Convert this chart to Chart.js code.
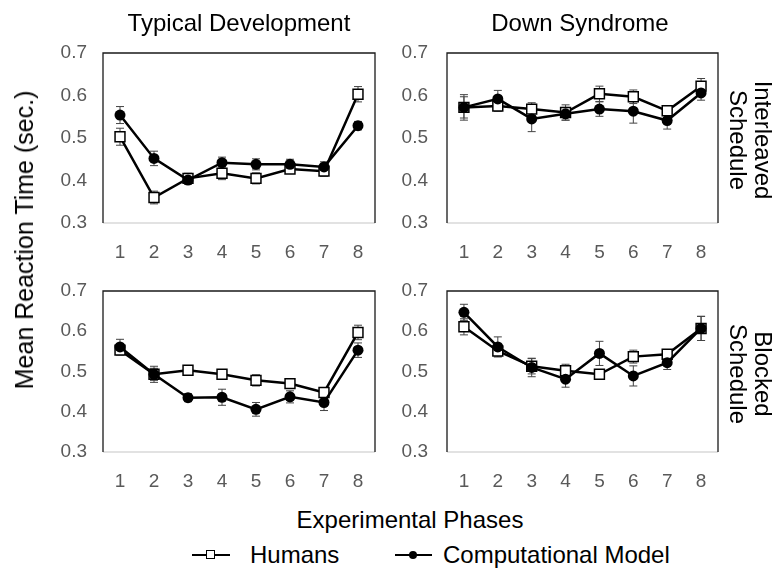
<!DOCTYPE html>
<html>
<head>
<meta charset="utf-8">
<script src="https://cdn.jsdelivr.net/npm/chart.js@4/dist/chart.umd.min.js"></script>
<style>
  html, body { margin: 0; padding: 0; background: #fff; }
  body { width: 779px; height: 568px; position: relative; overflow: hidden; font-family: "Liberation Sans", Arial, sans-serif; }
  canvas.panel { position: absolute; }
  .txt { position: absolute; white-space: nowrap; color: #000; font-size: 24px; line-height: 26px; transform: translate(-50%, -50%); }
  .rot90 { transform: translate(-50%, -50%) rotate(90deg); }
  .rotm90 { transform: translate(-50%, -50%) rotate(-90deg); }
  .leg-line { position: absolute; height: 2px; background: #000; }
  .leg-sq { position: absolute; width: 7px; height: 7px; border: 1.3px solid #000; background: #fff; }
  .leg-dot { position: absolute; width: 8px; height: 8px; border-radius: 50%; background: #000; }
</style>
</head>
<body>
<canvas class="panel" id="c1" width="352" height="235" style="left:33px;top:33px;width:352px;height:235px"></canvas>
<canvas class="panel" id="c2" width="351" height="235" style="left:377px;top:33px;width:351px;height:235px"></canvas>
<canvas class="panel" id="c3" width="352" height="226" style="left:33px;top:271px;width:352px;height:226px"></canvas>
<canvas class="panel" id="c4" width="351" height="226" style="left:377px;top:271px;width:351px;height:226px"></canvas>

<div class="txt" style="left:239px;top:23px">Typical Development</div>
<div class="txt" style="left:580px;top:23px">Down Syndrome</div>
<div class="txt rotm90" style="left:24px;top:240px;font-size:25px">Mean Reaction Time (sec.)</div>
<div class="txt rot90" style="left:763px;top:140px">Interleaved</div>
<div class="txt rot90" style="left:738px;top:140px">Schedule</div>
<div class="txt rot90" style="left:763px;top:374px">Blocked</div>
<div class="txt rot90" style="left:738px;top:374px">Schedule</div>
<div class="txt" style="left:410px;top:520px">Experimental Phases</div>

<div class="leg-line" style="left:192px;top:554px;width:38px"></div>
<div class="leg-sq" style="left:206px;top:550px"></div>
<div class="txt" style="left:250px;top:555px;transform:translate(0,-50%)">Humans</div>
<div class="leg-line" style="left:395px;top:554px;width:37px"></div>
<div class="leg-dot" style="left:409px;top:551px"></div>
<div class="txt" style="left:443px;top:555px;transform:translate(0,-50%)">Computational Model</div>

<script>
// ---- data ----
const phases = ["1", "2", "3", "4", "5", "6", "7", "8"];
const yTicks = [0.3, 0.4, 0.5, 0.6, 0.7];

// Typical Development, Interleaved schedule
const tdInterHumans    = [0.503, 0.360, 0.405, 0.417, 0.405, 0.427, 0.422, 0.603];
const tdInterHumansErr = [0.020, 0.015, 0.012, 0.015, 0.013, 0.010, 0.012, 0.018];
const tdInterModel     = [0.554, 0.452, 0.401, 0.442, 0.438, 0.438, 0.432, 0.529];
const tdInterModelErr  = [0.020, 0.017, 0.010, 0.013, 0.013, 0.012, 0.012, 0.010];

// Down Syndrome, Interleaved schedule
const dsInterHumans    = [0.572, 0.575, 0.568, 0.560, 0.604, 0.597, 0.564, 0.622];
const dsInterHumansErr = [0.030, 0.012, 0.015, 0.018, 0.018, 0.016, 0.010, 0.018];
const dsInterModel     = [0.572, 0.592, 0.545, 0.557, 0.568, 0.563, 0.541, 0.606];
const dsInterModelErr  = [0.025, 0.020, 0.030, 0.015, 0.017, 0.028, 0.020, 0.017];

// Typical Development, Blocked schedule
const tdBlockHumans    = [0.553, 0.493, 0.503, 0.493, 0.478, 0.470, 0.448, 0.597];
const tdBlockHumansErr = [0.012, 0.020, 0.012, 0.010, 0.014, 0.012, 0.010, 0.018];
const tdBlockModel     = [0.561, 0.493, 0.435, 0.436, 0.406, 0.437, 0.423, 0.553];
const tdBlockModelErr  = [0.019, 0.015, 0.010, 0.020, 0.017, 0.015, 0.020, 0.018];

// Down Syndrome, Blocked schedule
const dsBlockHumans    = [0.611, 0.551, 0.513, 0.502, 0.493, 0.537, 0.543, 0.607];
const dsBlockHumansErr = [0.020, 0.012, 0.019, 0.016, 0.010, 0.016, 0.010, 0.030];
const dsBlockModel     = [0.647, 0.561, 0.510, 0.481, 0.545, 0.489, 0.522, 0.607];
const dsBlockModelErr  = [0.020, 0.025, 0.023, 0.020, 0.030, 0.025, 0.017, 0.030];

// ---- plugins ----
const errorBars = {
  id: 'errorBars',
  beforeDatasetsDraw(chart) {
    const ctx = chart.ctx;
    const ys = chart.scales.y;
    chart.data.datasets.forEach((ds, i) => {
      const meta = chart.getDatasetMeta(i);
      ctx.save();
      ctx.strokeStyle = '#444';
      ctx.lineWidth = 1;
      meta.data.forEach((pt, j) => {
        const e = ds.err[j];
        const v = ds.data[j];
        const yTop = ys.getPixelForValue(v + e);
        const yBot = ys.getPixelForValue(v - e);
        const x = pt.x;
        ctx.beginPath();
        ctx.moveTo(x, yTop); ctx.lineTo(x, yBot);
        ctx.moveTo(x - 4, yTop); ctx.lineTo(x + 4, yTop);
        ctx.moveTo(x - 4, yBot); ctx.lineTo(x + 4, yBot);
        ctx.stroke();
      });
      ctx.restore();
    });
  }
};
const frame = {
  id: 'frame',
  afterDraw(chart) {
    const a = chart.chartArea, ctx = chart.ctx;
    ctx.save();
    ctx.strokeStyle = '#d9d9d9';
    ctx.lineWidth = 1.3;
    ctx.beginPath();
    ctx.moveTo(a.left, a.bottom); ctx.lineTo(a.right, a.bottom);
    ctx.stroke();
    ctx.strokeStyle = '#1a1a1a';
    ctx.beginPath();
    ctx.moveTo(a.left, a.bottom); ctx.lineTo(a.left, a.top);
    ctx.lineTo(a.right, a.top); ctx.lineTo(a.right, a.bottom);
    ctx.stroke();
    ctx.restore();
  }
};

function makePanel(id, humans, humansErr, model, modelErr, yPad) {
  new Chart(document.getElementById(id), {
    type: 'line',
    data: {
      labels: phases,
      datasets: [
        { label: 'Computational Model', data: model, err: modelErr,
          borderColor: '#000', borderWidth: 2.5, backgroundColor: '#000',
          pointStyle: 'circle', pointRadius: 5.5, pointBorderWidth: 0,
          pointBackgroundColor: '#000', tension: 0 },
        { label: 'Humans', data: humans, err: humansErr,
          borderColor: '#000', borderWidth: 2.5, backgroundColor: '#fff',
          pointStyle: 'rect', pointRadius: 7, pointBorderWidth: 1.5,
          pointBorderColor: '#000', pointBackgroundColor: '#fff', tension: 0 }
      ]
    },
    options: {
      responsive: false,
      animation: false,
      layout: { padding: { top: 20, right: 10, left: 0, bottom: 0 } },
      plugins: { legend: { display: false }, tooltip: { enabled: false } },
      scales: {
        x: {
          type: 'category', offset: true,
          grid: { display: false, drawTicks: false },
          border: { display: false },
          ticks: { color: '#595959', font: { family: 'Liberation Sans', size: 19 }, padding: 18, maxRotation: 0 },
          afterFit(s) { s.height = 45; s.paddingLeft = 0; s.paddingRight = 0; }
        },
        y: {
          min: 0.3, max: 0.7,
          afterBuildTicks(s) { s.ticks = yTicks.map(v => ({ value: v })); },
          grid: { display: false, drawTicks: false },
          border: { display: false },
          ticks: { color: '#595959', font: { family: 'Liberation Sans', size: 19 }, padding: yPad,
                   callback: v => Number(v).toFixed(1) },
          afterFit(s) { s.width = 70; s.paddingTop = 0; s.paddingBottom = 0; }
        }
      }
    },
    plugins: [errorBars, frame]
  });
}

makePanel('c1', tdInterHumans, tdInterHumansErr, tdInterModel, tdInterModelErr, 16);
makePanel('c2', dsInterHumans, dsInterHumansErr, dsInterModel, dsInterModelErr, 19);
makePanel('c3', tdBlockHumans, tdBlockHumansErr, tdBlockModel, tdBlockModelErr, 16);
makePanel('c4', dsBlockHumans, dsBlockHumansErr, dsBlockModel, dsBlockModelErr, 19);
</script>
</body>
</html>
